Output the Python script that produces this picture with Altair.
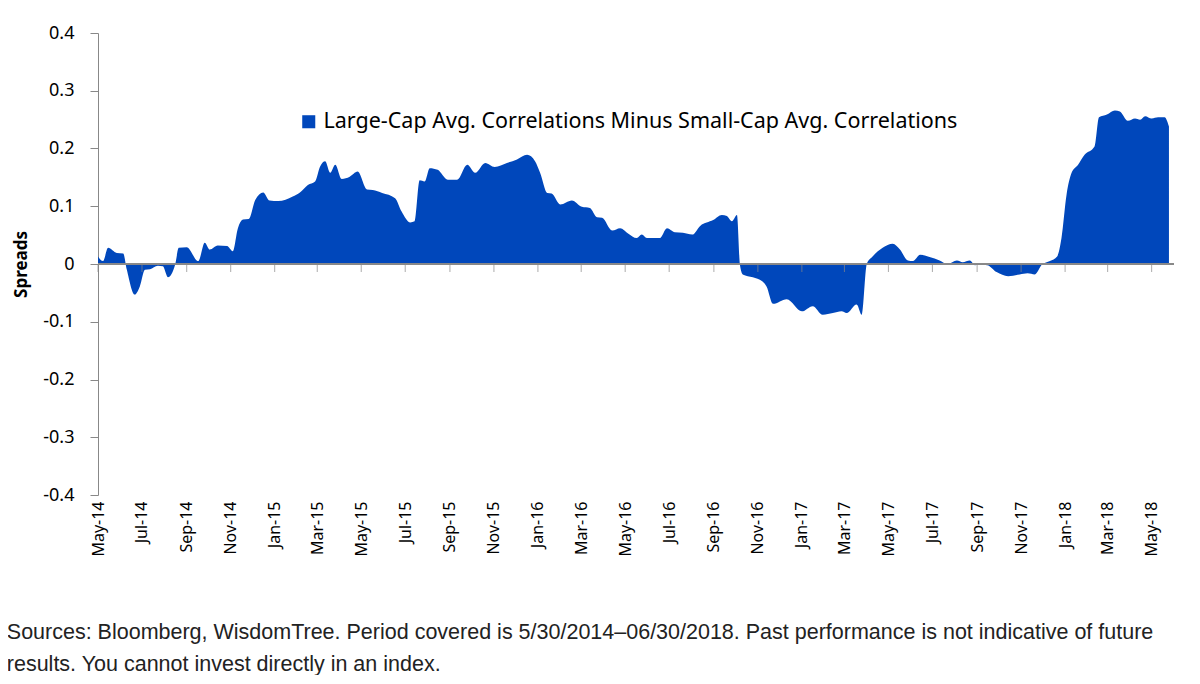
import altair as alt
import pandas as pd

start = pd.Timestamp("2014-05-30")
day_offsets = [0, 7, 14, 26, 35, 40, 51, 58, 65, 72, 83, 90, 97, 107, 112, 123, 139, 148, 155, 166,
               179, 187, 194, 201, 209, 218, 229, 238, 250, 270, 280, 291, 301, 308, 315, 322, 329, 338,
               349, 360, 373, 381, 394, 412, 421, 433, 439, 446, 453, 460, 471, 485, 498, 512, 523, 537,
               550, 567, 581, 595, 606, 613, 623, 629, 641, 657, 671, 682, 692, 699, 713, 724, 735, 747,
               754, 761, 779, 789, 800, 811, 824, 835, 853, 865, 872, 879, 886, 890, 894, 908, 921, 927,
               936, 955, 976, 991, 1005, 1019, 1031, 1038, 1052, 1059, 1066, 1074, 1088, 1102, 1112,
               1123, 1130, 1140, 1153, 1167, 1178, 1191, 1199, 1209, 1216, 1223, 1233, 1246, 1262, 1278,
               1289, 1299, 1309, 1320, 1330, 1336, 1343, 1350, 1359, 1368, 1382, 1388, 1399, 1410, 1417,
               1428, 1438, 1445, 1452, 1461, 1470, 1479, 1485]
spreads = [0.013, 0.005, 0.028, 0.019, 0.018, -0.01, -0.053, -0.039, -0.01, -0.009, -0.003, -0.004,
           -0.023, -0.001, 0.028, 0.029, 0.005, 0.037, 0.025, 0.032, 0.031, 0.022, 0.062, 0.077, 0.078,
           0.111, 0.124, 0.110, 0.109, 0.117, 0.124, 0.137, 0.143, 0.169, 0.178, 0.158, 0.172, 0.147,
           0.151, 0.160, 0.129, 0.128, 0.123, 0.114, 0.091, 0.072, 0.074, 0.145, 0.143, 0.166, 0.163,
           0.146, 0.146, 0.172, 0.158, 0.175, 0.168, 0.175, 0.181, 0.189, 0.178, 0.158, 0.123, 0.122,
           0.103, 0.110, 0.099, 0.097, 0.081, 0.080, 0.058, 0.062, 0.053, 0.045, 0.051, 0.045, 0.045,
           0.062, 0.055, 0.054, 0.051, 0.066, 0.076, 0.085, 0.083, 0.074, 0.085, 0.0, -0.018, -0.023,
           -0.030, -0.039, -0.069, -0.061, -0.082, -0.073, -0.088, -0.085, -0.082, -0.085, -0.070,
           -0.088, 0.0, 0.013, 0.028, 0.035, 0.025, 0.006, 0.005, 0.016, 0.012, 0.006, 0.0, 0.006,
           0.003, 0.006, -0.002, -0.001, -0.002, -0.014, -0.021, -0.018, -0.016, -0.018, -0.001, 0.005,
           0.013, 0.045, 0.120, 0.158, 0.172, 0.189, 0.204, 0.254, 0.259, 0.266, 0.264, 0.248, 0.252,
           0.250, 0.256, 0.252, 0.254, 0.254, 0.238]
series_name = "Large-Cap Avg. Correlations Minus Small-Cap Avg. Correlations"
tick_dates = pd.date_range("2014-05-01", periods=25, freq="2MS") + pd.Timedelta(days=29)
note = ["Sources: Bloomberg, WisdomTree. Period covered is 5/30/2014\u201306/30/2018. Past performance is not indicative of future",
        "results. You cannot invest directly in an index."]

df = pd.DataFrame({"date": [start + pd.Timedelta(days=d) for d in day_offsets],
                   "spread": spreads, "series": series_name})
ticks = pd.DataFrame({"date": tick_dates, "zero": 0.0})

x_scale = alt.Scale(domain=[pd.Timestamp("2014-05-30").isoformat(), pd.Timestamp("2018-06-30").isoformat()])
tick_vals = [alt.DateTime(year=d.year, month=d.month, date=d.day) for d in tick_dates]
font = "Noto Sans"

area = alt.Chart(df).mark_area(interpolate="monotone").encode(
    x=alt.X("date:T", scale=x_scale, title=None,
            axis=alt.Axis(values=tick_vals, format="%b-%y", labelAngle=-90, domain=False, ticks=False,
                          grid=False, labelFontSize=16, labelColor="#000", labelPadding=6,
                          labelFont=font)),
    y=alt.Y("spread:Q", scale=alt.Scale(domain=[-0.4, 0.4]), title="Spreads",
            axis=alt.Axis(values=[-0.4, -0.3, -0.2, -0.1, 0, 0.1, 0.2, 0.3, 0.4],
                          labelExpr="datum.value == 0 ? '0' : replace(format(datum.value, '.1f'), '\u2212', '-')",
                          grid=False, domainColor="#888", tickColor="#888", tickSize=8,
                          labelFontSize=18, labelColor="#000", labelFont=font,
                          titleFontSize=17, titleFont=font, titleColor="#000",
                          titlePadding=12, labelPadding=16)),
    color=alt.Color("series:N", scale=alt.Scale(range=["#0047BB"]),
                    legend=alt.Legend(title=None, orient="none", legendX=200, legendY=78,
                                      symbolType="square", symbolSize=170, labelFontSize=21.5,
                                      labelFont=font, labelColor="#000", labelLimit=900))
)

zero_line = alt.Chart(ticks).mark_rule(color="#888").encode(
    y=alt.datum(0), x=alt.value(0), x2=alt.value(1076))
zero_ticks = alt.Chart(ticks).mark_tick(color="#888", orient="vertical", size=8, yOffset=4, thickness=1).encode(
    x=alt.X("date:T", scale=x_scale), y=alt.Y("zero:Q", scale=alt.Scale(domain=[-0.4, 0.4])))

chart = alt.layer(area, zero_line, zero_ticks).properties(
    width=1076, height=462,
    autosize=alt.AutoSizeParams(type="none"),
    padding={"left": 90, "top": 25, "right": 18, "bottom": 180},
    title=alt.TitleParams(note, orient="bottom", anchor="start", dx=-6, offset=66, fontSize=21.5,
                          fontWeight="normal", font="Liberation Sans", color="#222", lineHeight=32)
).configure_view(stroke=None)

chart.save("out.html", embed_options={"renderer": "svg", "actions": False})
